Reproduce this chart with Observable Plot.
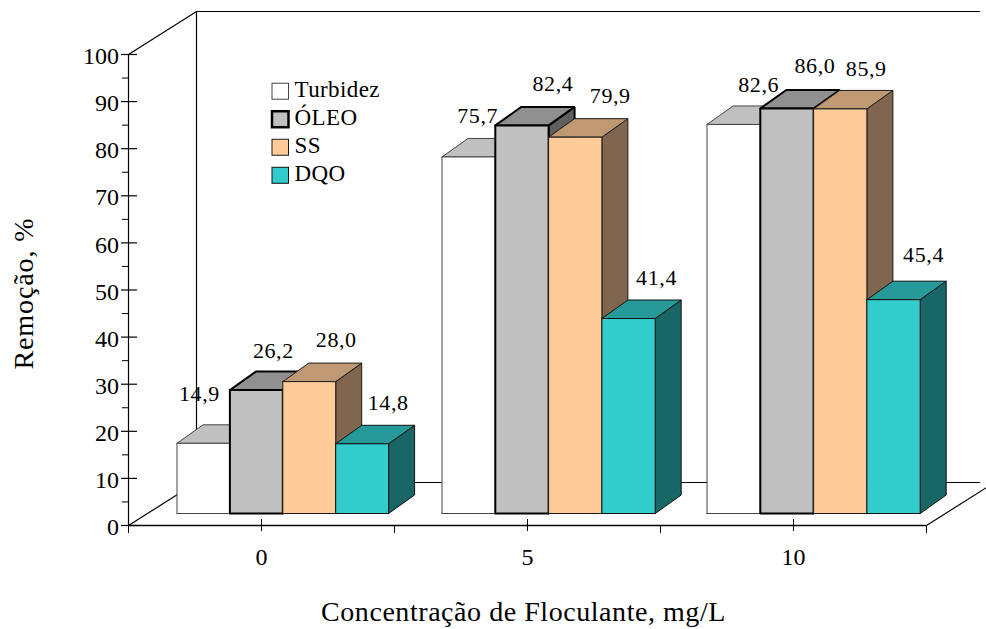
<!DOCTYPE html>
<html>
<head>
<meta charset="utf-8">
<style>
html,body{margin:0;padding:0;background:#fff}svg{display:block}
.vlabel text{letter-spacing:.6px}
.legendtext text{letter-spacing:.4px}
.xtitle text{letter-spacing:.55px}
.ytitle text{letter-spacing:.9px}
</style>
<script src="https://cdn.jsdelivr.net/npm/d3@7"></script>
<script src="https://cdn.jsdelivr.net/npm/@observablehq/plot@0.6"></script>
</head>
<body>
<div id="chart"></div>
<script>
const concentrations = ["0", "5", "10"];
const series = ["Turbidez", "ÓLEO", "SS", "DQO"];
const turbidez = [14.9, 75.7, 82.6];
const oleo = [26.2, 82.4, 86.0];
const ss = [28.0, 79.9, 85.9];
const dqo = [14.8, 41.4, 45.4];
const valueLabels = [
  ["14,9", "75,7", "82,6"],
  ["26,2", "82,4", "86,0"],
  ["28,0", "79,9", "85,9"],
  ["14,8", "41,4", "45,4"]
];
const frontColors = ["#ffffff", "#c0c0c0", "#ffcc99", "#33cccc"];
const topColors = ["#c0c0c0", "#909090", "#bf9973", "#269999"];
const sideColors = ["#808080", "#606060", "#806650", "#196666"];
const strokeColors = ["#444444", "#000000", "#1a1a1a", "#111111"];
const strokeWidths = [1, 2, 1, 1];
// label nudges from the top centre of each bar, in pixels
const labelNudgeX = [[-4, 9, 25], [17, 31, 28], [27, 35, 26], [26, 28, 30]];
const labelNudgeY = [[-49, -41, -40], [-39, -41, -42], [-42, -41, -40], [-41, -41, -45]];

const values = [turbidez, oleo, ss, dqo];
const FONT = "'Liberation Serif','Times New Roman',serif";
const pxX = 3 / 798, pxY = 100 / 471;            // one pixel in data units
const wallX = 68 * pxX, wallY = 43 * pxY;        // depth of the floor
const depthX = 26 * pxX, depthY = 18.5 * pxY;    // depth of a bar
const floorY = 12 * pxY;                         // front of bars above the axis
const groupWidths = [52.9, 53.3, 53.3];
const barX = (g, s) => (48.5 + 265 * g + s * groupWidths[g]) * pxX;

const polys = [];
const labels = [];
let id = 0;
function poly(points, fill, stroke, sw) {
  id++;
  const closed = [...points, points[0]];
  for (const [x, y] of closed) polys.push({id, x, y, fill, stroke, sw});
}
concentrations.forEach((_, g) => {
  series.forEach((_, s) => {
    const v = values[s][g], x0 = barX(g, s), x1 = barX(g, s + 1);
    const y0 = floorY, y1 = floorY + v;
    const sw = strokeWidths[s], st = strokeColors[s];
    poly([[x1, y0], [x1 + depthX, y0 + depthY], [x1 + depthX, y1 + depthY], [x1, y1]], sideColors[s], st, sw);
    poly([[x0, y1], [x1, y1], [x1 + depthX, y1 + depthY], [x0 + depthX, y1 + depthY]], topColors[s], st, sw);
    poly([[x0, y0], [x1, y0], [x1, y1], [x0, y1]], frontColors[s], st, sw);
    labels.push({
      x: (x0 + x1) / 2 + labelNudgeX[s][g] * pxX,
      y: y1 - labelNudgeY[s][g] * pxY,
      text: valueLabels[s][g]
    });
  });
});

const legendRows = series.map((name, s) => ({name, s, y: 92.1 - s * 5.95}));
const frameLines = [
  [[0, 100], [wallX, 100 + wallY], [3.2, 100 + wallY]],
  [[wallX, 100 + wallY], [wallX, wallY]],
  [[0, 0], [wallX, wallY], [3.2, wallY]],
  [[3, 0], [3 + wallX, wallY]]
].flatMap((pts, i) => pts.map(([x, y]) => ({i, x, y})));

const chart = Plot.plot({
  width: 986, height: 629,
  marginLeft: 128, marginRight: 60, marginTop: 54, marginBottom: 104,
  x: {domain: [0, 3], axis: null},
  y: {domain: [0, 100], axis: null},
  style: {background: "#fff", fontFamily: FONT, overflow: "hidden"},
  marks: [
    Plot.line(frameLines, {x: "x", y: "y", z: "i", stroke: "#000", strokeWidth: 1.2}),
    Plot.line(polys, {x: "x", y: "y", z: "id", fill: "fill", stroke: "stroke", strokeWidth: "sw", strokeLinejoin: "miter"}),
    Plot.ruleY([0], {x1: 0, x2: 3, stroke: "#000", strokeWidth: 1.5}),
    Plot.ruleX([0], {y1: 0, y2: 100, stroke: "#000", strokeWidth: 1.2}),
    Plot.ruleY(d3.range(0, 101, 10), {x1: -7 * pxX, x2: 9 * pxX, stroke: "#000", strokeWidth: 1.2}),
    Plot.ruleY(d3.range(5, 100, 10), {x1: -6 * pxX, x2: 0, stroke: "#000", strokeWidth: 1}),
    Plot.ruleX([0, 1, 2, 3], {y1: 0, y2: -8 * pxY, stroke: "#000", strokeWidth: 1}),
    Plot.ruleX([0.5, 1.5, 2.5], {y1: 6 * pxY, y2: -6 * pxY, stroke: "#000", strokeWidth: 1}),
    Plot.text(d3.range(0, 101, 10), {x: -9.5 * pxX, y: d => d, dy: 2, text: d => String(d), textAnchor: "end", fontSize: 24, fontFamily: FONT, fill: "#000"}),
    Plot.text(concentrations, {x: (d, i) => i + 0.5, y: -32 * pxY, text: d => d, fontSize: 24, fontFamily: FONT, fill: "#000"}),
    Plot.text(labels, {x: "x", y: "y", text: "text", fontSize: 22, fontFamily: FONT, fill: "#000", className: "vlabel"}),
    Plot.rect(legendRows, {x1: 144 * pxX, x2: 160.5 * pxX, y1: d => d.y - 8 * pxY, y2: d => d.y + 8 * pxY, fill: d => frontColors[d.s], stroke: d => strokeColors[d.s], strokeWidth: d => d.s === 1 ? 2.5 : 1}),
    Plot.text(legendRows, {x: 166 * pxX, y: "y", dy: -2, text: "name", textAnchor: "start", fontSize: 23, fontFamily: FONT, fill: "#000", className: "legendtext"}),
    Plot.text(["Concentração de Floculante, mg/L"], {x: 395 * pxX, y: -87 * pxY, text: d => d, fontSize: 28, fontFamily: FONT, fill: "#000", className: "xtitle"}),
    Plot.text(["Remoção, %"], {x: -104 * pxX, y: 232 * pxY, text: d => d, rotate: -90, fontSize: 28, fontFamily: FONT, fill: "#000", className: "ytitle"})
  ]
});
document.getElementById("chart").appendChild(chart);
</script>
</body>
</html>
